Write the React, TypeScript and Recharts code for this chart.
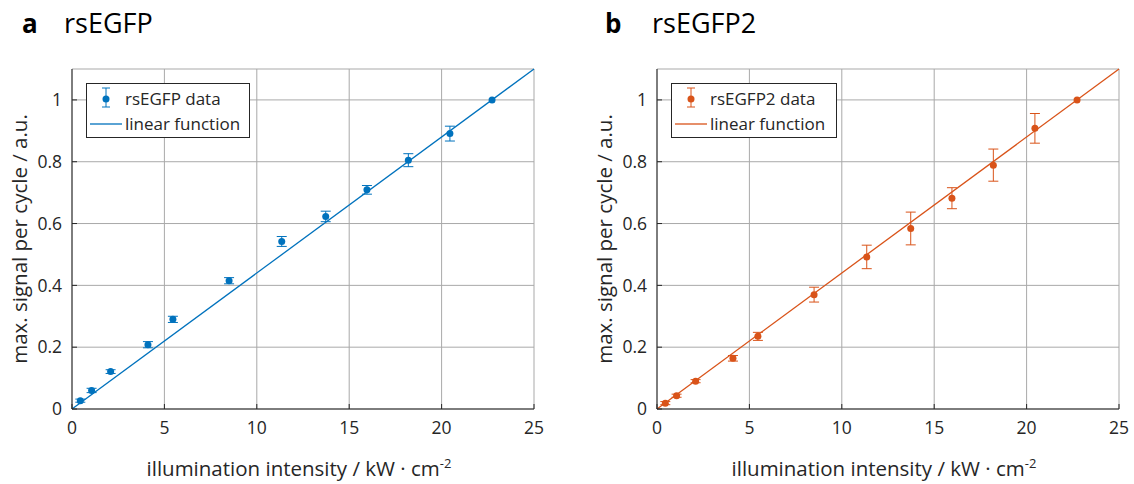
import { ScatterChart, Scatter, XAxis, YAxis, CartesianGrid, ErrorBar, ReferenceLine, Legend } from 'recharts'

const FONT = '"Open Sans", sans-serif'
const AXIS = '#262626'
const GRID = '#a9a9a9'

const xTicks = [0, 5, 10, 15, 20, 25]
const yTicks = [0, 0.2, 0.4, 0.6, 0.8, 1]

// illumination intensity, kW/cm^2
const intensity = [0.45, 1.06, 2.09, 4.11, 5.46, 8.5, 11.35, 13.73, 15.96, 18.2, 20.45, 22.73]

const rsEGFPSignal = [0.027, 0.06, 0.121, 0.208, 0.29, 0.415, 0.542, 0.623, 0.709, 0.805, 0.891, 1.0]
const rsEGFPErr = [0.005, 0.007, 0.006, 0.01, 0.01, 0.01, 0.016, 0.017, 0.014, 0.021, 0.024, 0]

const rsEGFP2Signal = [0.019, 0.043, 0.09, 0.164, 0.235, 0.37, 0.492, 0.584, 0.682, 0.789, 0.908, 1.0]
const rsEGFP2Err = [0.005, 0.005, 0.005, 0.009, 0.013, 0.024, 0.038, 0.053, 0.034, 0.052, 0.048, 0]

// linear fit endpoints
const fitX = [0, 25]
const fitY = [0, 1.1]

const W = 549
const H = 484

function LegendBox({ color, label }: { color: string; label: string }) {
  return (
    <svg width={168} height={56} style={{ display: 'block' }}>
      <rect x={0.5} y={0.5} width={label.length > 11 ? 165 : 163} height={54} fill="#fff" stroke={AXIS} strokeWidth={1} />
      <line x1={20} x2={20} y1={5} y2={24} stroke={color} strokeWidth={1} />
      <line x1={16} x2={24} y1={5} y2={5} stroke={color} strokeWidth={1} />
      <line x1={16} x2={24} y1={24} y2={24} stroke={color} strokeWidth={1} />
      <circle cx={20} cy={16} r={3.5} fill={color} />
      <text x={39} y={22} fontSize={17} fontFamily={FONT} fill={AXIS}>{label}</text>
      <line x1={4} x2={36} y1={41} y2={41} stroke={color} strokeWidth={1.3} />
      <text x={39} y={47} fontSize={17} fontFamily={FONT} fill={AXIS}>linear function</text>
    </svg>
  )
}

interface PanelProps {
  left: number
  color: string
  signal: number[]
  err: number[]
  label: string
}

function Panel({ left, color, signal, err, label }: PanelProps) {
  const data = intensity.map((x, i) => ({ x, y: signal[i], err: err[i] }))
  return (
    <div style={{ position: 'absolute', left, top: 0 }}>
      <ScatterChart width={W} height={H} margin={{ top: 69, right: 15, bottom: 0, left: 0 }}>
        <CartesianGrid stroke={GRID} strokeWidth={1} />
        <XAxis
          type="number"
          dataKey="x"
          domain={[0, 25]}
          ticks={xTicks}
          height={75}
          stroke={AXIS}
          tickSize={-5}
          tickMargin={18}
          tick={{ fill: AXIS, fontSize: 17.5, fontFamily: FONT }}
          label={{
            content: ({ viewBox }: any) => (
              <text x={viewBox.x + viewBox.width / 2 - 4} y={viewBox.y + 67} textAnchor="middle" fontSize={20.5} fontFamily={FONT} fill={AXIS}>
                illumination intensity / kW · cm<tspan dy={-8} fontSize={13}>-2</tspan>
              </text>
            ),
          }}
        />
        <XAxis xAxisId="top" orientation="top" type="number" domain={[0, 25]} ticks={xTicks} height={0} stroke={AXIS} tickSize={-5} tick={false} />
        <YAxis
          type="number"
          dataKey="y"
          domain={[0, 1.1]}
          ticks={yTicks}
          width={72}
          stroke={AXIS}
          tickSize={-5}
          tickMargin={15}
          tick={{ fill: AXIS, fontSize: 17.5, fontFamily: FONT }}
          label={{
            content: ({ viewBox }: any) => (
              <text
                x={viewBox.x + 27}
                y={viewBox.y + viewBox.height / 2}
                transform={`rotate(-90 ${viewBox.x + 27} ${viewBox.y + viewBox.height / 2})`}
                textAnchor="middle"
                fontSize={20.5}
                fontFamily={FONT}
                fill={AXIS}
              >
                max. signal per cycle / a.u.
              </text>
            ),
          }}
        />
        <YAxis yAxisId="right" orientation="right" type="number" domain={[0, 1.1]} ticks={yTicks} width={0} stroke={AXIS} tickSize={-5} tick={false} />
        <ReferenceLine
          segment={[{ x: fitX[0], y: fitY[0] }, { x: fitX[1], y: fitY[1] }]}
          stroke={color}
          strokeWidth={1.3}
          ifOverflow="visible"
        />
        <Scatter
          data={data}
          fill={color}
          isAnimationActive={false}
          shape={(p: any) => <circle cx={p.cx} cy={p.cy} r={3.5} fill={color} />}
        >
          <ErrorBar dataKey="err" direction="y" width={5} stroke={color} strokeWidth={1} isAnimationActive={false} />
        </Scatter>
        <Legend
          layout="vertical"
          align="center"
          verticalAlign="middle"
          wrapperStyle={{ left: 86, top: 83, width: 168 }}
          content={() => <LegendBox color={color} label={label} />}
        />
      </ScatterChart>
    </div>
  )
}

export default function App() {
  return (
    <div style={{ position: 'absolute', left: 0, top: 0, width: 1134, height: 484, background: '#fff' }}>
      <Panel left={0} color="#0072BD" signal={rsEGFPSignal} err={rsEGFPErr} label="rsEGFP data" />
      <Panel left={585} color="#D95319" signal={rsEGFP2Signal} err={rsEGFP2Err} label="rsEGFP2 data" />
      <svg width={1134} height={50} style={{ position: 'absolute', left: 0, top: 0 }}>
        <text x={22} y={33} fontSize={26} fontWeight="bold" fontFamily={FONT} fill="#000">a</text>
        <text x={64} y={33} fontSize={27} fontFamily={FONT} fill="#000">rsEGFP</text>
        <text x={605} y={33} fontSize={26} fontWeight="bold" fontFamily={FONT} fill="#000">b</text>
        <text x={652} y={33} fontSize={27} fontFamily={FONT} fill="#000">rsEGFP2</text>
      </svg>
    </div>
  )
}
